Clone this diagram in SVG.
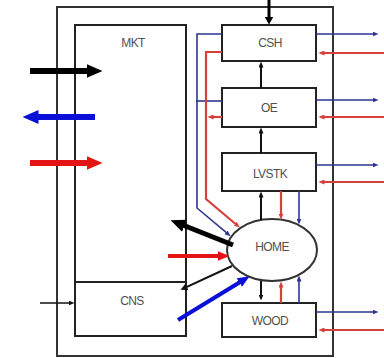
<svg xmlns="http://www.w3.org/2000/svg" width="384" height="358" viewBox="0 0 384 358">
<style>
.box{fill:#fff;stroke:#222;stroke-width:2}
.frame{fill:none;stroke:#333;stroke-width:2}
.lbl{font-family:"Liberation Sans",Arial,sans-serif;font-size:12px;fill:#505050;text-anchor:middle;dominant-baseline:central;letter-spacing:-0.6px}
.k{stroke:#111;fill:none}
.b{stroke:#2d3590;fill:none;stroke-width:1.6}
.r{stroke:#d5403c;fill:none;stroke-width:2.2}
</style>
<defs>
<marker id="sk" markerUnits="userSpaceOnUse" markerWidth="6" markerHeight="5" refX="0.5" refY="2.5" orient="auto"><path d="M0,0L6,2.5L0,5z" fill="#111"/></marker>
<marker id="sb" markerUnits="userSpaceOnUse" markerWidth="6" markerHeight="5" refX="0.5" refY="2.5" orient="auto"><path d="M0,0L6,2.5L0,5z" fill="#2d3590"/></marker>
<marker id="sr" markerUnits="userSpaceOnUse" markerWidth="6" markerHeight="5" refX="0.5" refY="2.5" orient="auto"><path d="M0,0L6,2.5L0,5z" fill="#d5403c"/></marker>
<marker id="Lk" markerUnits="userSpaceOnUse" markerWidth="16" markerHeight="14" refX="0.5" refY="7" orient="auto"><path d="M0,0L16,7L0,14z" fill="#000"/></marker>
<marker id="Lb" markerUnits="userSpaceOnUse" markerWidth="16" markerHeight="14" refX="0.5" refY="7" orient="auto"><path d="M0,0L16,7L0,14z" fill="#0b10d8"/></marker>
<marker id="Lr" markerUnits="userSpaceOnUse" markerWidth="16" markerHeight="14" refX="0.5" refY="7" orient="auto"><path d="M0,0L16,7L0,14z" fill="#e41414"/></marker>
<marker id="Mk" markerUnits="userSpaceOnUse" markerWidth="15" markerHeight="13" refX="0.5" refY="6.5" orient="auto"><path d="M0,0L15,6.5L0,13z" fill="#000"/></marker>
<marker id="Mr" markerUnits="userSpaceOnUse" markerWidth="12" markerHeight="10" refX="0.5" refY="5" orient="auto"><path d="M0,0L12,5L0,10z" fill="#e41414"/></marker>
<marker id="Mb" markerUnits="userSpaceOnUse" markerWidth="12" markerHeight="10" refX="0.5" refY="5" orient="auto"><path d="M0,0L12,5L0,10z" fill="#0b10d8"/></marker>
<marker id="Tk" markerUnits="userSpaceOnUse" markerWidth="8" markerHeight="9" refX="0.5" refY="4.5" orient="auto"><path d="M0,0L8,4.5L0,9z" fill="#000"/></marker>
<marker id="Nk" markerUnits="userSpaceOnUse" markerWidth="7" markerHeight="7" refX="0.5" refY="3.5" orient="auto"><path d="M0,0L7,3.5L0,7z" fill="#111"/></marker>
</defs>
<rect width="384" height="358" fill="#fff"/>
<rect class="frame" x="57" y="7" width="276" height="349"/>

<g id="MKT"><rect class="box" x="75" y="25" width="111" height="257"/><text class="lbl" x="133" y="43">MKT</text></g>
<g id="CNS"><rect class="box" x="75" y="282" width="111" height="54"/><text class="lbl" x="132" y="301">CNS</text></g>
<g id="CSH"><rect class="box" x="222" y="25" width="94" height="36"/><text class="lbl" x="270" y="43">CSH</text></g>
<g id="OE"><rect class="box" x="222" y="88" width="94" height="39"/><text class="lbl" x="269" y="108">OE</text></g>
<g id="LVSTK"><rect class="box" x="222" y="153" width="94" height="38"/><text class="lbl" x="270" y="174">LVSTK</text></g>
<g id="WOOD"><rect class="box" x="222" y="303" width="94" height="34"/><text class="lbl" x="270" y="321">WOOD</text></g>
<g id="HOME"><ellipse cx="272" cy="250" rx="45" ry="31" fill="#fff" stroke="#333" stroke-width="2"/><text class="lbl" x="272" y="247">HOME</text></g>

<g id="connectors">
<line x1="30" y1="71" x2="87" y2="71" stroke="#000" stroke-width="6" marker-end="url(#Lk)"/>
<line x1="95" y1="117" x2="38" y2="117" stroke="#0b10d8" stroke-width="6" marker-end="url(#Lb)"/>
<line x1="30" y1="163" x2="87" y2="163" stroke="#e41414" stroke-width="6" marker-end="url(#Lr)"/>
<line class="k" x1="40" y1="303" x2="69" y2="303" stroke-width="1.5" marker-end="url(#sk)"/>
<line x1="269" y1="0" x2="269" y2="17" stroke="#000" stroke-width="3" marker-end="url(#Tk)"/>
<line class="k" x1="261" y1="88" x2="261" y2="67" stroke-width="2" marker-end="url(#sk)"/>
<line class="k" x1="261" y1="153" x2="261" y2="133" stroke-width="2" marker-end="url(#sk)"/>
<line class="k" x1="261" y1="220" x2="261" y2="197" stroke-width="2" marker-end="url(#sk)"/>
<line class="k" x1="261" y1="281" x2="261" y2="295" stroke-width="2" marker-end="url(#sk)"/>
<line class="r" x1="281" y1="191" x2="281" y2="214" stroke-width="1.6" marker-end="url(#sr)"/>
<line class="b" x1="299" y1="191" x2="299" y2="219" marker-end="url(#sb)"/>
<line class="r" x1="281" y1="303" x2="281" y2="287" stroke-width="1.6" marker-end="url(#sr)"/>
<line class="b" x1="299" y1="303" x2="299" y2="281" marker-end="url(#sb)"/>
<polyline class="b" points="222,34 197,34 197,208 226.4,232.7" marker-end="url(#sb)"/>
<line class="b" x1="222" y1="101" x2="196" y2="101"/>
<polyline class="r" points="222,52 206,52 206,199 235.6,224" stroke-width="2.6" marker-end="url(#sr)"/>
<line class="r" x1="222" y1="117" x2="213" y2="117" stroke-width="1.6" marker-end="url(#sr)"/>
<line x1="233" y1="245" x2="184" y2="225.5" stroke="#000" stroke-width="5" marker-end="url(#Mk)"/>
<line x1="168" y1="256" x2="218" y2="256" stroke="#e41414" stroke-width="4" marker-end="url(#Mr)"/>
<line class="k" x1="232" y1="266" x2="186.4" y2="287.1" stroke-width="2" marker-end="url(#Nk)"/>
<line x1="178" y1="320" x2="239.8" y2="282.3" stroke="#0b10d8" stroke-width="4" marker-end="url(#Mb)"/>
<line class="b" x1="316" y1="34" x2="373" y2="34" marker-end="url(#sb)"/>
<line class="r" x1="384" y1="53" x2="324" y2="53" stroke-width="1.8" marker-end="url(#sr)"/>
<line class="b" x1="316" y1="100" x2="373" y2="100" marker-end="url(#sb)"/>
<line class="r" x1="384" y1="117" x2="324" y2="117" stroke-width="1.8" marker-end="url(#sr)"/>
<line class="b" x1="316" y1="165" x2="373" y2="165" marker-end="url(#sb)"/>
<line class="r" x1="384" y1="182" x2="324" y2="182" stroke-width="1.8" marker-end="url(#sr)"/>
<line class="b" x1="316" y1="312" x2="373" y2="312" marker-end="url(#sb)"/>
<line class="r" x1="384" y1="330" x2="324" y2="330" stroke-width="1.8" marker-end="url(#sr)"/>
</g>
</svg>
